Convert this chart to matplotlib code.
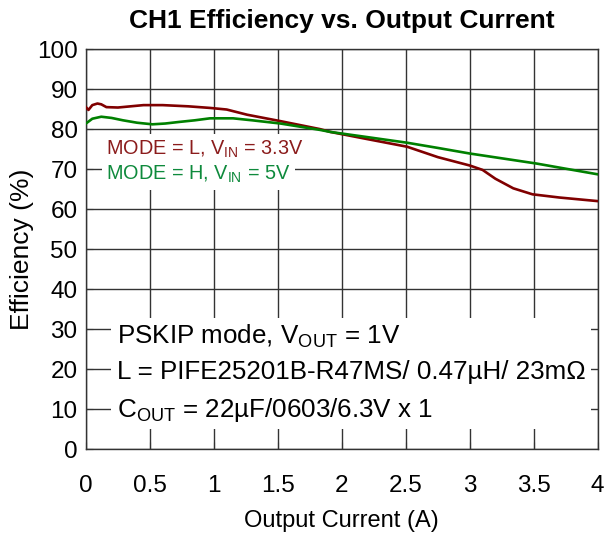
import matplotlib
matplotlib.use("Agg")
import matplotlib.pyplot as plt

plt.rcParams["font.family"] = ["Liberation Sans", "DejaVu Sans"]
plt.rcParams["mathtext.default"] = "regular"

# MODE = L, VIN = 3.3V
current_l = [0.0, 0.02, 0.05, 0.09, 0.12, 0.16, 0.25, 0.35, 0.45, 0.6, 0.8, 0.97, 1.1, 1.26, 1.52, 1.83,
             1.91, 2.2, 2.51, 2.75, 3.0, 3.1, 3.2, 3.34, 3.49, 3.7, 4.0]
eff_l = [85.5, 84.8, 86.0, 86.4, 86.2, 85.5, 85.4, 85.7, 86.0, 86.0, 85.7, 85.3, 84.9, 83.6, 82.0, 80.0,
         79.3, 77.5, 75.6, 73.0, 70.9, 69.8, 67.6, 65.2, 63.7, 62.9, 62.0]

# MODE = H, VIN = 5V
current_h = [0.0, 0.05, 0.12, 0.2, 0.29, 0.4, 0.52, 0.62, 0.73, 0.85, 0.97, 1.15, 1.3, 1.52, 1.83,
             1.91, 2.2, 2.51, 2.75, 3.0, 3.25, 3.52, 3.75, 4.0]
eff_h = [81.4, 82.6, 83.1, 82.8, 82.2, 81.6, 81.2, 81.4, 81.8, 82.2, 82.7, 82.7, 82.2, 81.4, 79.8,
         79.3, 78.0, 76.6, 75.3, 73.9, 72.7, 71.4, 70.1, 68.7]

xticks = [0, 0.5, 1, 1.5, 2, 2.5, 3, 3.5, 4]
xticklabels = ["0", "0.5", "1", "1.5", "2", "2.5", "3", "3.5", "4"]
yticks = list(range(0, 101, 10))

fig = plt.figure(figsize=(6.05, 5.34), dpi=100)
ax = fig.add_axes([0.142, 0.159, 0.846, 0.749])

ax.plot(current_l, eff_l, color="#800000", lw=1.9, zorder=3)
ax.plot(current_h, eff_h, color="#008000", lw=1.9, zorder=3)

ax.set_xlim(0, 4)
ax.set_ylim(0, 100)
ax.set_xticks(xticks)
ax.set_xticklabels(xticklabels)
ax.set_yticks(yticks)
ax.tick_params(direction="in", labelsize=17.5, length=5, color="#333333")
ax.tick_params(axis="x", pad=19)
ax.tick_params(axis="y", pad=6)
ax.grid(True, color="#333333", lw=1.0)
ax.set_axisbelow(True)
for s in ax.spines.values():
    s.set_color("#333333")
    s.set_linewidth(1.0)

ax.set_title("CH1 Efficiency vs. Output Current", fontsize=19, fontweight="bold", pad=15)
ax.set_xlabel("Output Current (A)", fontsize=17, labelpad=9)
ax.set_ylabel("Efficiency (%)", fontsize=19, labelpad=2)

ax.text(0.16, 75.0, "MODE = L, V$_{IN}$ = 3.3V", color="#8b1c1c", fontsize=14.3,
        va="center", ha="left", zorder=2,
        bbox=dict(facecolor="white", edgecolor="none", pad=3))
ax.text(0.16, 68.6, "MODE = H, V$_{IN}$ = 5V", color="#0e8a3c", fontsize=14.3,
        va="center", ha="left", zorder=2,
        bbox=dict(facecolor="white", edgecolor="none", pad=3))

ax.text(0.24, 19.0,
        "PSKIP mode, V$_{OUT}$ = 1V\nL = PIFE25201B-R47MS/ 0.47µH/ 23mΩ\nC$_{OUT}$ = 22µF/0603/6.3V x 1",
        fontsize=18.7, va="center", ha="left", linespacing=1.55, zorder=2,
        bbox=dict(facecolor="white", edgecolor="none", pad=4))

fig.savefig("out.png", dpi=100)
